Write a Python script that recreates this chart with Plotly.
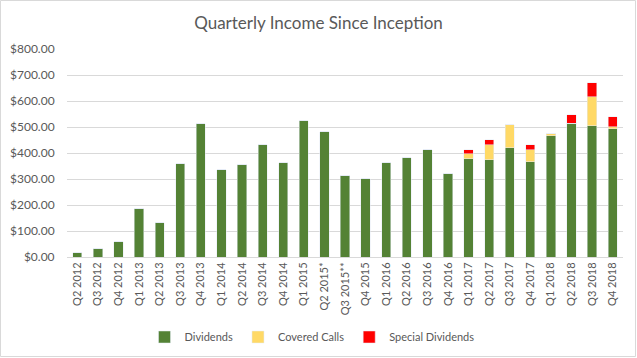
import plotly.graph_objects as go

quarters = ["Q2 2012", "Q3 2012", "Q4 2012", "Q1 2013", "Q2 2013", "Q3 2013", "Q4 2013",
            "Q1 2014", "Q2 2014", "Q3 2014", "Q4 2014", "Q1 2015", "Q2 2015*", "Q3 2015**",
            "Q4 2015", "Q1 2016", "Q2 2016", "Q3 2016", "Q4 2016", "Q1 2017", "Q2 2017",
            "Q3 2017", "Q4 2017", "Q1 2018", "Q2 2018", "Q3 2018", "Q4 2018"]
dividends = [17, 32, 59, 186, 132, 359, 513, 336, 355, 432, 363, 524, 482, 313,
             301, 363, 382, 413, 321, 378, 374, 421, 367, 467, 515, 505, 494]
covered_calls = [0, 0, 0, 0, 0, 0, 0, 0, 0, 0, 0, 0, 0, 0,
                 0, 0, 0, 0, 0, 19, 58, 88, 46, 7, 0, 112, 7]
special_dividends = [0, 0, 0, 0, 0, 0, 0, 0, 0, 0, 0, 0, 0, 0,
                     0, 0, 0, 0, 0, 16, 19, 0, 19, 0, 32, 54, 39]

FONT = "Lato"
GREY = "#595959"

fig = go.Figure()
fig.add_trace(go.Bar(x=quarters, y=dividends, name="Dividends", marker_color="#548235"))
fig.add_trace(go.Bar(x=quarters, y=covered_calls, name="Covered Calls", marker_color="#FFD966"))
fig.add_trace(go.Bar(x=quarters, y=special_dividends, name="Special Dividends", marker_color="#FF0000"))

L, R, T, B = 67, 14, 49, 101
W, H = 637, 358
pw, ph = W - L - R, H - T - B

fig.update_layout(
    width=W, height=H,
    barmode="stack", bargap=0.55,
    margin=dict(l=L, r=R, t=T, b=B, autoexpand=False),
    paper_bgcolor="white", plot_bgcolor="white",
    font=dict(family=FONT, color=GREY, size=11),
    title=dict(text="Quarterly Income Since Inception", x=0.5, xanchor="center",
               y=1 - 23 / H, yanchor="middle", yref="container",
               font=dict(family=FONT, size=17, color=GREY)),
    legend=dict(orientation="h", x=0.5 - 33 / pw, xanchor="center", y=(ph - (337 - T)) / ph,
                yanchor="middle", font=dict(family=FONT, size=11, color=GREY),
                itemwidth=30, traceorder="normal"),
    showlegend=True,
)
fig.update_xaxes(tickangle=-90, tickfont=dict(family=FONT, size=11, color=GREY),
                 showline=True, linecolor="#D9D9D9", ticks="", automargin=False,
                 showgrid=False)
fig.update_yaxes(range=[0, 800], dtick=100, tickprefix="$", tickformat=",.2f",
                 gridcolor="#D9D9D9", zeroline=False, showline=False,
                 ticks="outside", ticklen=9, tickcolor="rgba(0,0,0,0)",
                 tickfont=dict(family=FONT, size=12, color=GREY), automargin=False)

# chart border
fig.add_shape(type="rect", xref="paper", yref="paper",
              x0=(0.5 - L) / pw, x1=(W - 1.5 - L) / pw,
              y0=(ph + T - (H - 1.5)) / ph, y1=(ph + T - 0.5) / ph,
              line=dict(color="#D9D9D9", width=1), layer="below")

fig.write_html("out.html", config={"displayModeBar": False},
               post_script="document.body.style.margin='0';document.body.style.padding='0';")
